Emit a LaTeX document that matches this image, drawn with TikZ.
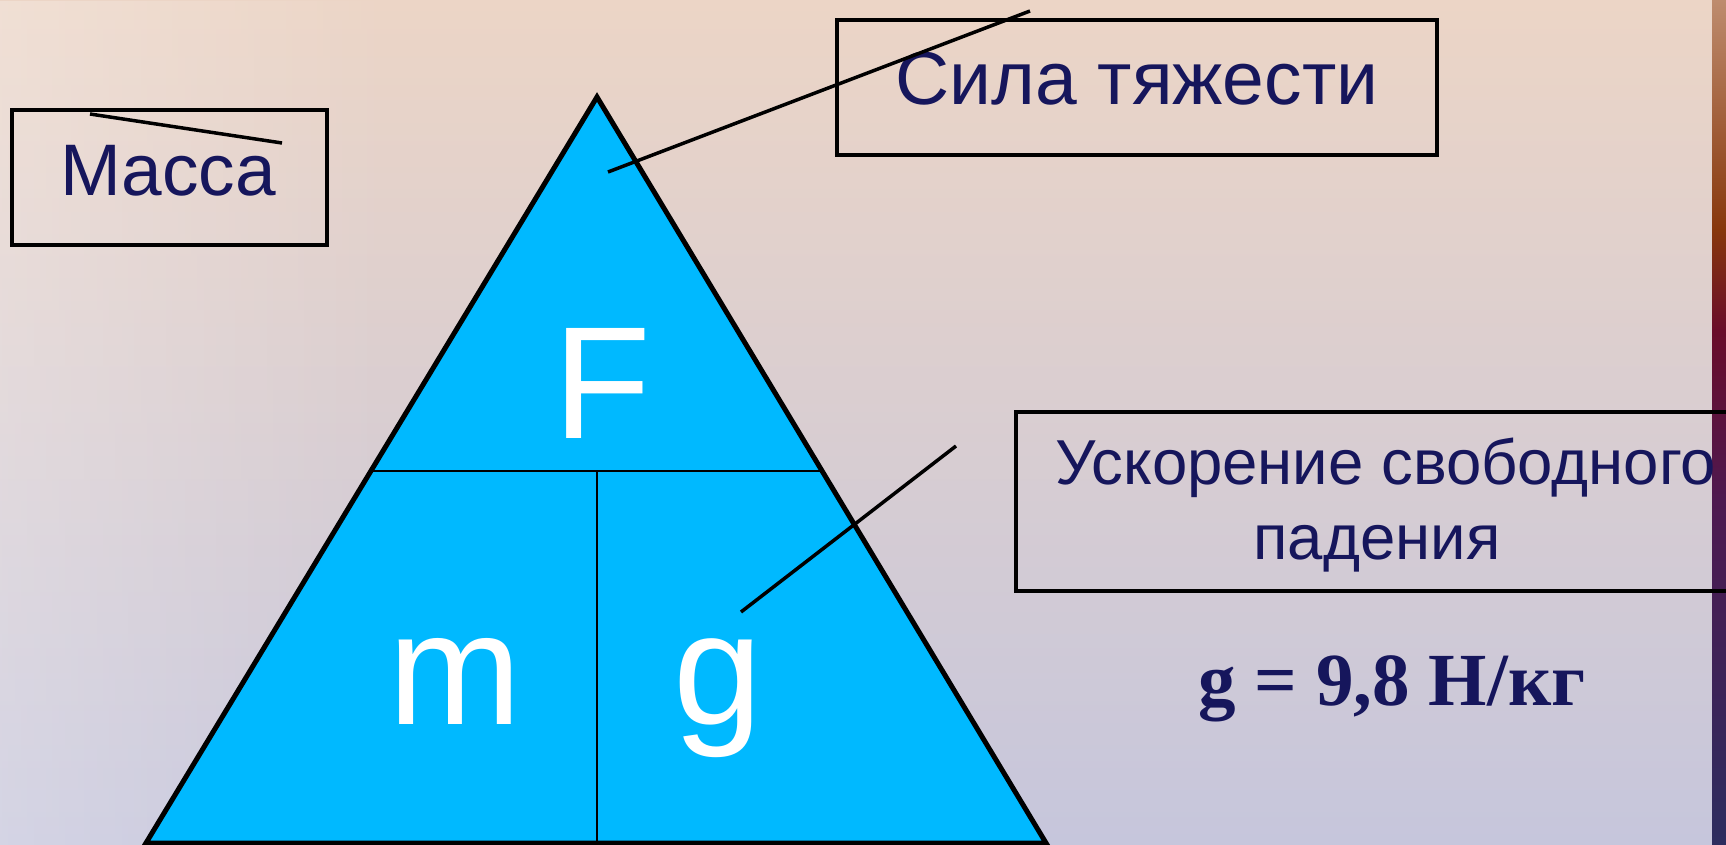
\documentclass[tikz,border=0pt]{standalone}
\usepackage{fontspec}
\usetikzlibrary{fadings}
\setmainfont{Liberation Sans}
\newfontfamily\tnr{Liberation Serif}
\definecolor{navy}{RGB}{22,22,92}
\definecolor{tri}{RGB}{0,185,255}
\definecolor{bgtop}{RGB}{236,213,198}
\definecolor{bgmid}{RGB}{218,192,202}
\definecolor{bgbot}{RGB}{198,198,220}
\definecolor{sa}{RGB}{190,140,110}
\definecolor{sb}{RGB}{135,55,12}
\definecolor{sc}{RGB}{105,12,42}
\definecolor{sd}{RGB}{78,25,80}
\definecolor{se}{RGB}{45,45,95}
\tikzset{
  lbl/.style={text=navy, inner sep=0pt, anchor=base},
  big/.style={text=white, inner sep=0pt, anchor=base, font=\fontsize{160}{190}\selectfont},
  labelbox/.style={draw=black, line width=3.5pt},
  leader/.style={draw=black, line width=3.5pt},
  divider/.style={draw=black, line width=2.6pt}
}
\begin{document}
\begin{tikzpicture}[x=1pt,y=-1pt]
\useasboundingbox (0,0) rectangle (1726,845);
% background
\shade[top color=bgtop, middle color=bgmid, bottom color=bgbot] (0,0) rectangle (1726,845);
\fill[white, opacity=0.25, path fading=east] (0,0) rectangle (400,845);
% right strip
\shade[top color=sa, bottom color=sb] (1712,0) rectangle (1726,230);
\shade[top color=sb, bottom color=sc] (1712,230) rectangle (1726,330);
\shade[top color=sc, bottom color=sd] (1712,330) rectangle (1726,500);
\shade[top color=sd, bottom color=se] (1712,500) rectangle (1726,845);

% triangle
\coordinate (apex) at (597,97);
\coordinate (bl) at (146,843);
\coordinate (br) at (1046,843);
\coordinate (dl) at (371.5,471);
\coordinate (dr) at (821.5,471);
\coordinate (dm) at (597,471);
\coordinate (bm) at (597,843);
\fill[tri] (apex) -- (bl) -- (br) -- cycle;
\draw[divider] (dl) -- (dr);
\draw[divider] (dm) -- (bm);
\draw[black, line width=5pt] (apex) -- (bl) -- (br) -- cycle;

\node[big] (F) at (602,438) {F};
\node[big] (m) at (455,724) {m};
\node[big] (g) at (718,724) {g};

% boxes
\draw[labelbox] (12,110) rectangle (327,245);
\node[lbl, font=\fontsize{73}{80}\selectfont] (massa) at (168,196) {Масса};
\draw[labelbox] (837,20) rectangle (1437,155);
\node[lbl, font=\fontsize{75}{80}\selectfont] (sila) at (1137,105) {Сила тяжести};
\draw[labelbox] (1016,412) -- (1730,412);
\draw[labelbox] (1016,410.3) -- (1016,592.7);
\draw[labelbox] (1016,591) -- (1730,591);
\node[lbl, font=\fontsize{63.5}{70}\selectfont] (usk1) at (1386,484) {Ускорение свободного};
\node[lbl, font=\fontsize{63.5}{70}\selectfont] (usk2) at (1377,559) {падения};
\node[lbl, font=\tnr\bfseries\fontsize{75}{80}\selectfont] (formula) at (1392,705) {g = 9,8 Н/кг};

% leader lines
\coordinate (lm1) at (90,114);
\coordinate (lm2) at (282,143);
\draw[leader] (lm1) -- (lm2);
\coordinate (ls1) at (608,172);
\coordinate (ls2) at (1030,11);
\draw[leader] (ls1) -- (ls2);
\coordinate (lg1) at (741,612);
\coordinate (lg2) at (956,446);
\draw[leader] (lg1) -- (lg2);
\end{tikzpicture}
\end{document}
